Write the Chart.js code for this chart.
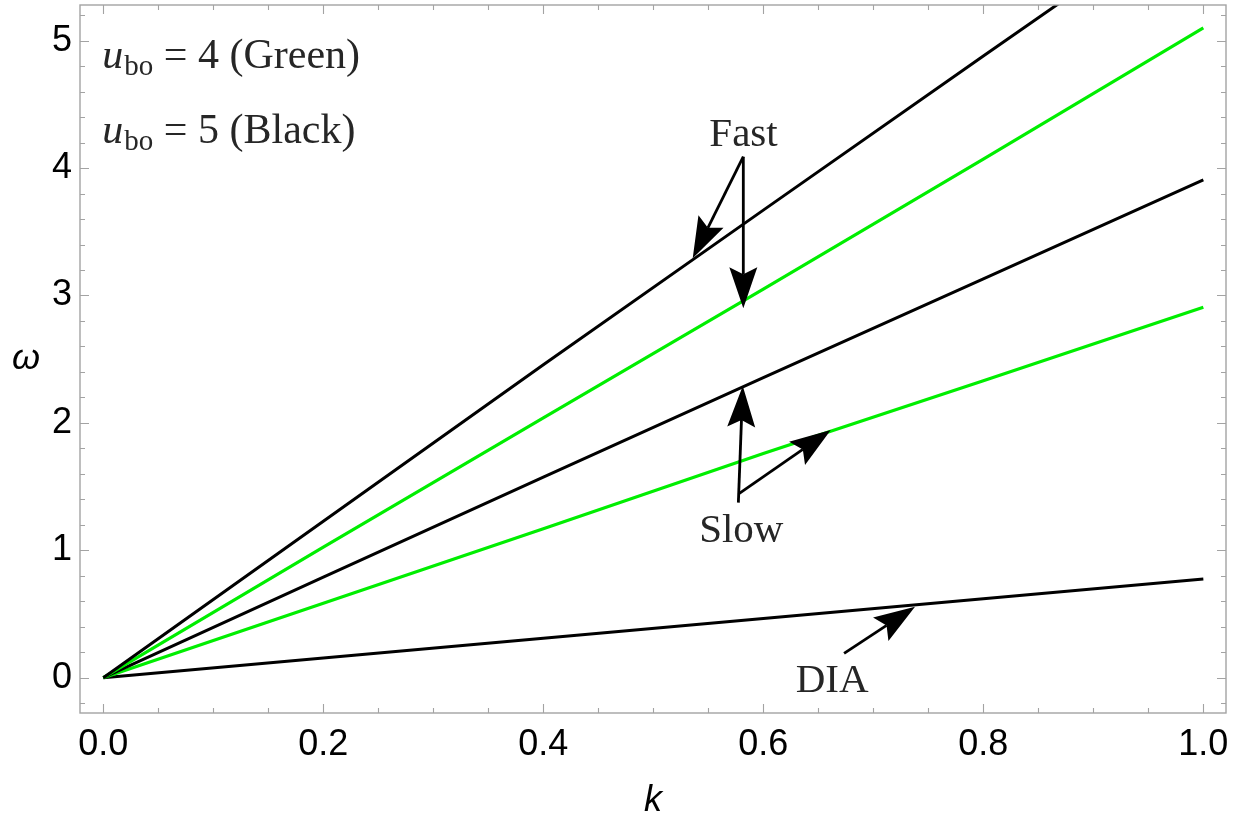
<!DOCTYPE html>
<html>
<head>
<meta charset="utf-8">
<script src="https://cdn.jsdelivr.net/npm/chart.js@4.4.1/dist/chart.umd.min.js"></script>
<style>
	html, body { margin: 0; padding: 0; background: #fff; }
	#caixa { width: 1246px; height: 823px; }
</style>
</head>
<body>
<div id="caixa"><canvas id="graficoDispersao" width="1246" height="823"></canvas></div>
<script>
// wave number k and frequency omega for the two beam velocities
var kValores = [0, 0.2, 0.4, 0.6, 0.8, 1.0]
var rapidoPreto = [0, 1.228, 2.456, 3.67, 4.88, 6.08]   // fast, u_bo = 5
var rapidoVerde = [0, 1.025, 2.04, 3.05, 4.07, 5.10]    // fast, u_bo = 4
var lentoPreto = [0, 0.79, 1.575, 2.355, 3.13, 3.907]   // slow, u_bo = 5
var lentoVerde = [0, 0.585, 1.17, 1.76, 2.33, 2.907]    // slow, u_bo = 4
var diaPreto = [0, 0.155, 0.31, 0.465, 0.62, 0.775]     // DIA

var ticksX = [0, 0.2, 0.4, 0.6, 0.8, 1.0]
var ticksY = [0, 1, 2, 3, 4, 5]

// labels and arrows, in k / omega units
var textos = [
	{ texto: 'Fast', k: 0.582, w: 4.17 },
	{ texto: 'Slow', k: 0.580, w: 1.067 },
	{ texto: 'DIA', k: 0.6625, w: -0.11 }
]
var setas = [
	[0.5818, 4.089, 0.5358, 3.292],
	[0.5818, 4.089, 0.5818, 2.900],
	[0.5773, 1.374, 0.5813, 2.290],
	[0.5782, 1.447, 0.6613, 1.944],
	[0.6734, 0.1915, 0.7379, 0.557]
]
var legendas = [
	{ valor: '4 (Green)', w: 4.783 },
	{ valor: '5 (Black)', w: 4.195 }
]

var corMoldura = '#a3a3a3'
var verde = '#00ee00'

function serie(valores) {
	return kValores.map(function (k, i) { return { x: k, y: valores[i] } })
}

function linha(valores, cor, largura) {
	return {
		data: serie(valores),
		borderColor: cor,
		borderWidth: largura,
		showLine: true,
		pointRadius: 0,
		tension: 0
	}
}

function desenhaSeta(ctx, x0, y0, x1, y1) {
	var ang = Math.atan2(y1 - y0, x1 - x0)
	var comp = 41, meia = 14, entalhe = 34
	ctx.beginPath()
	ctx.moveTo(x0, y0)
	ctx.lineTo(x1 - Math.cos(ang) * entalhe, y1 - Math.sin(ang) * entalhe)
	ctx.stroke()
	ctx.save()
	ctx.translate(x1, y1)
	ctx.rotate(ang)
	ctx.beginPath()
	ctx.moveTo(0, 0)
	ctx.lineTo(-comp, -meia)
	ctx.lineTo(-entalhe, 0)
	ctx.lineTo(-comp, meia)
	ctx.closePath()
	ctx.fill()
	ctx.restore()
}

var molduraPlugin = {
	id: 'moldura',
	afterDraw: function (chart) {
		var ctx = chart.ctx
		var a = chart.chartArea
		var sx = chart.scales.x
		var sy = chart.scales.y
		ctx.save()

		// frame with inward ticks on all four sides
		ctx.strokeStyle = corMoldura
		ctx.lineWidth = 1.4
		ctx.strokeRect(a.left, a.top, a.right - a.left, a.bottom - a.top)
		ctx.lineWidth = 1.1
		ctx.beginPath()
		for (var i = 0; i <= 20; i++) {
			var v = i * 0.05
			var px = Math.round(sx.getPixelForValue(v)) + 0.5
			var t = (i % 4 === 0) ? 9 : 5
			ctx.moveTo(px, a.bottom); ctx.lineTo(px, a.bottom - t)
			ctx.moveTo(px, a.top); ctx.lineTo(px, a.top + t)
		}
		for (var j = -1; j <= 26; j++) {
			var vy = j * 0.2
			var py = Math.round(sy.getPixelForValue(vy)) + 0.5
			if (py < a.top || py > a.bottom) continue
			var ty = (j % 5 === 0) ? 9 : 5
			ctx.moveTo(a.left, py); ctx.lineTo(a.left + ty, py)
			ctx.moveTo(a.right, py); ctx.lineTo(a.right - ty, py)
		}
		ctx.stroke()

		// axis titles
		ctx.fillStyle = '#000'
		ctx.font = 'italic 36px "Liberation Sans", Arial, sans-serif'
		ctx.textAlign = 'center'
		ctx.textBaseline = 'alphabetic'
		ctx.fillText('k', (a.left + a.right) / 2, 811)
		ctx.fillText('\u03c9', 26, (a.top + a.bottom) / 2 + 10)

		// labels and arrows
		ctx.fillStyle = '#262626'
		ctx.font = '41px "Liberation Serif", "Times New Roman", serif'
		textos.forEach(function (t) {
			ctx.fillText(t.texto, sx.getPixelForValue(t.k), sy.getPixelForValue(t.w))
		})
		ctx.fillStyle = '#000'
		ctx.strokeStyle = '#000'
		ctx.lineWidth = 2.8
		setas.forEach(function (s) {
			desenhaSeta(ctx,
				sx.getPixelForValue(s[0]), sy.getPixelForValue(s[1]),
				sx.getPixelForValue(s[2]), sy.getPixelForValue(s[3]))
		})

		// u_bo legend text
		ctx.fillStyle = '#262626'
		ctx.textAlign = 'left'
		legendas.forEach(function (l) {
			var x = sx.getPixelForValue(0) - 1
			var y = sy.getPixelForValue(l.w)
			ctx.font = 'italic 42px "Liberation Serif", "Times New Roman", serif'
			ctx.fillText('u', x, y)
			x += ctx.measureText('u').width + 1
			ctx.font = '29px "Liberation Serif", "Times New Roman", serif'
			ctx.fillText('bo', x, y + 7)
			x += ctx.measureText('bo').width
			ctx.font = '42px "Liberation Serif", "Times New Roman", serif'
			ctx.fillText(' = ' + l.valor, x, y)
		})
		ctx.restore()
	}
}

var configChart = {
	type: 'scatter',
	data: {
		datasets: [
			linha(rapidoPreto, '#000', 3),
			linha(rapidoVerde, verde, 3.2),
			linha(lentoPreto, '#000', 3),
			linha(lentoVerde, verde, 3.2),
			linha(diaPreto, '#000', 3)
		]
	},
	options: {
		responsive: false,
		animation: false,
		devicePixelRatio: 1,
		layout: { padding: { left: 0, top: 5, right: 20, bottom: 0 } },
		plugins: {
			legend: { display: false },
			tooltip: { enabled: false },
			title: { display: false }
		},
		scales: {
			x: {
				type: 'linear',
				min: -0.0212,
				max: 1.0206,
				afterFit: function (s) {
					s.height = 110
					s.paddingLeft = 0
					s.paddingRight = 0
				},
				afterBuildTicks: function (s) {
					s.ticks = ticksX.map(function (v) { return { value: v } })
				},
				grid: { display: false, drawTicks: false },
				border: { display: false },
				ticks: {
					padding: 10,
					color: '#000',
					font: { family: '"Liberation Sans", Arial, sans-serif', size: 36 },
					callback: function (v) { return v.toFixed(1) }
				}
			},
			y: {
				type: 'linear',
				min: -0.277,
				max: 5.28,
				afterFit: function (s) {
					s.width = 80
					s.paddingTop = 0
					s.paddingBottom = 0
				},
				afterBuildTicks: function (s) {
					s.ticks = ticksY.map(function (v) { return { value: v } })
				},
				grid: { display: false, drawTicks: false },
				border: { display: false },
				ticks: {
					padding: 8,
					color: '#000',
					font: { family: '"Liberation Sans", Arial, sans-serif', size: 36 },
					callback: function (v) { return String(v) }
				}
			}
		}
	},
	plugins: [molduraPlugin]
}

var ctx = document.getElementById('graficoDispersao').getContext('2d')
window.graficoDispersao = new Chart(ctx, configChart)
</script>
</body>
</html>
